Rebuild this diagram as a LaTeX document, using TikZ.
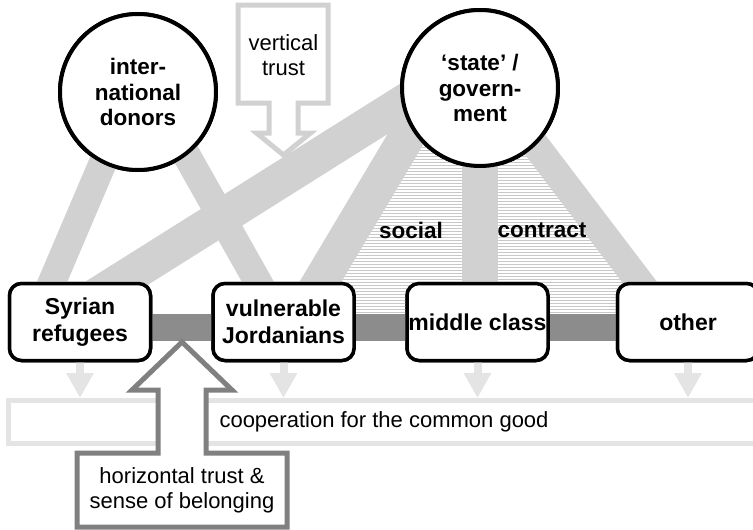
\documentclass[tikz,border=0pt]{standalone}
\usepackage{fontspec}
\setmainfont{Liberation Sans}
\usetikzlibrary{arrows.meta}
\definecolor{stripegray}{RGB}{208,209,208}
\definecolor{bandgray}{RGB}{140,140,140}
\definecolor{coopgray}{RGB}{228,228,228}
\definecolor{hatchgray}{RGB}{200,200,200}
\definecolor{htrustgray}{RGB}{128,128,128}

\begin{document}
\begin{tikzpicture}[x=1pt,y=-1pt,
    actor/.style={circle,draw=black,line width=4pt,fill=white,minimum size=156pt,inner sep=0pt,align=center,font=\bfseries\fontsize{22.5}{25.5}\selectfont},
    group/.style={draw=black,line width=3.5pt,rounded corners=12pt,fill=white,minimum width=141pt,minimum height=77pt,inner sep=1pt,align=center,font=\bfseries\fontsize{23}{27}\selectfont},
    stripe/.style={stripegray,line width=28pt},
    widestripe/.style={stripegray,line width=36pt},
    band/.style={bandgray,line width=27pt},
    hatch/.style={hatchgray,line width=1pt},
    vtrust/.style={draw=stripegray,line width=5pt,fill=white,line join=miter},
    htrust/.style={draw=htrustgray,line width=5pt,fill=white,line join=miter},
    coopbox/.style={draw=coopgray,line width=5pt,minimum width=790pt,minimum height=43pt,inner sep=0pt},
    down/.style={coopgray,line width=8pt,-{Triangle[width=26pt,length=25pt]}},
    trusttext/.style={align=center,font=\fontsize{22}{25}\selectfont},
    contract/.style={font=\bfseries\fontsize{22.5}{25}\selectfont}]
    \useasboundingbox (0,0) rectangle (753,530);

    \node[actor] (don) at (138,92) {inter-\\national\\donors};
    \node[actor] (gov) at (480,88) {`state' /\\govern-\\ment};
    \node[group] (syr) at (80,322) {Syrian\\refugees};
    \node[group] (jor) at (283.5,322) {vulnerable\\Jordanians};
    \node[group] (mid) at (477.5,322) {middle class};
    \node[group] (oth) at (688,322) {other};
    \node[coopbox,anchor=north west] (coop) at (6,398) {};

    \begin{scope}
        \clip (436,88) -- (302,313) -- (663,313) -- (492,88) -- cycle;
        \foreach \y in {90,93,...,312}
            \draw[hatch] (290,\y) -- (680,\y);
    \end{scope}

    \draw[stripe] ([xshift=-5pt]don.center) -- ([xshift=-45pt]syr.center);
    \draw[stripe] ([xshift=13pt]don.center) -- ([xshift=-3pt]jor.center);
    \draw[widestripe] ([xshift=-53pt]gov.center) -- ([xshift=-25pt]syr.center);
    \draw[widestripe] ([xshift=-44pt]gov.center) -- ([xshift=13pt]jor.center);
    \draw[widestripe] (gov.center) -- (gov.center |- mid.center);
    \draw[stripe] ([xshift=12pt]gov.center) -- ([xshift=-18pt]oth.center);

    \draw[vtrust] (238,5) -- (328,5) -- (328,103) -- (298,103) -- (298,133) -- (310.5,133) -- (283.5,155)
        -- (256.5,133) -- (269,133) -- (269,103) -- (238,103) -- cycle;
    \node[trusttext] (vtxt) at (283.5,55) {vertical\\trust};

    \node[actor] at (don) {inter-\\national\\donors};
    \node[actor] at (gov) {`state' /\\govern-\\ment};

    \node[contract] (soc) at (411,230) {social};
    \node[contract] (con) at (542,230) {contract};

    \draw[band] ([yshift=-5pt]syr.center) -- ([yshift=-5pt]oth.center);

    \draw[down] (syr.south) -- (syr.south |- coop.north);
    \draw[down] (jor.south) -- (jor.south |- coop.north);
    \draw[down] (mid.south) -- (mid.south |- coop.north);
    \draw[down] (oth.south) -- (oth.south |- coop.north);
    \node[trusttext,anchor=west] (cooptxt) at (216,422) {cooperation for the common good};

    \node[group] at (syr) {Syrian\\refugees};
    \node[group] at (jor) {vulnerable\\Jordanians};
    \node[group] at (mid) {middle class};
    \node[group] at (oth) {other};

    \draw[htrust] (77,453) -- (158,453) -- (158,390) -- (132,390) -- (182,342) -- (232,390) -- (206,390)
        -- (206,453) -- (287,453) -- (287,527) -- (77,527) -- cycle;
    \node[trusttext] (htxt) at (182,490) {horizontal trust \&\\sense of belonging};
\end{tikzpicture}
\end{document}
